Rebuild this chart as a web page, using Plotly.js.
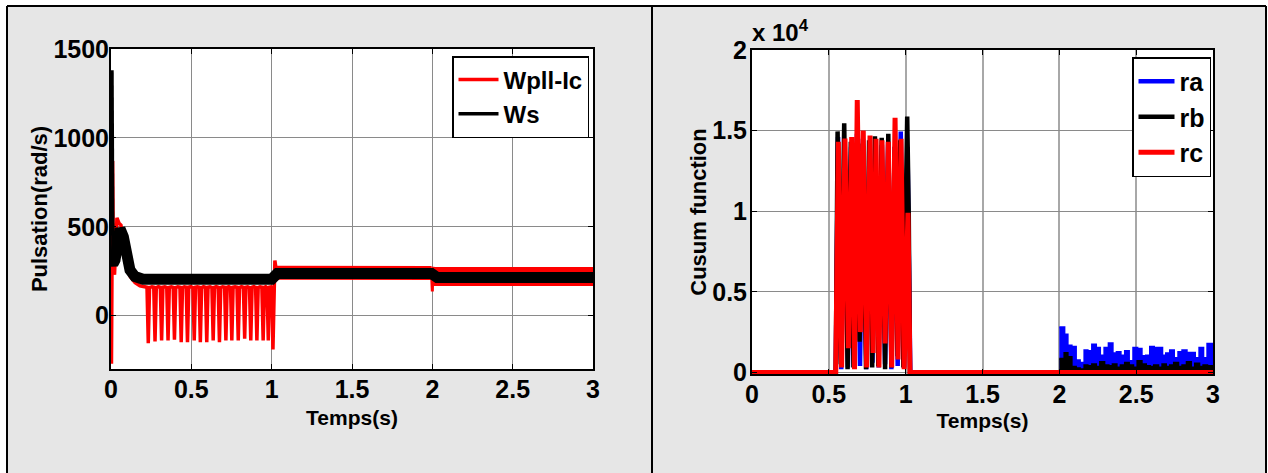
<!DOCTYPE html>
<html>
<head>
<meta charset="utf-8">
<script src="https://cdn.plot.ly/plotly-3.0.1.min.js"></script>
<style>html,body{margin:0;padding:0;background:#fff;}#chart{width:1268px;height:473px;}</style>
</head>
<body>
<div id="chart"></div>
<script>
// ---------- DATA ----------
const xTicks = [0, 0.5, 1, 1.5, 2, 2.5, 3];
const xTickText = ['0', '0.5', '1', '1.5', '2', '2.5', '3'];
const y1Ticks = [0, 500, 1000, 1500];
const y1TickText = ['0', '500', '1000', '1500'];
const y2Ticks = [0, 5000, 10000, 15000, 20000];
const y2TickText = ['0', '0.5', '1', '1.5', '2'];

// Left chart: Wpll-Ic (red), transient + oscillation 0..1.03 s
const wpllT = [0, 0.003, 0.010, 0.015, 0.022, 0.030, 0.037, 0.050, 0.062, 0.075, 0.090, 0.105, 0.120, 0.150, 0.180, 0.210,
  0.224, 0.232, 0.240, 0.255, 0.266, 0.274, 0.282, 0.295, 0.307, 0.315, 0.323, 0.335, 0.347, 0.355, 0.363, 0.375,
  0.387, 0.395, 0.403, 0.416, 0.429, 0.437, 0.445, 0.456, 0.468, 0.476, 0.484, 0.497, 0.510, 0.518, 0.526, 0.537,
  0.548, 0.556, 0.564, 0.576, 0.588, 0.596, 0.604, 0.616, 0.628, 0.636, 0.644, 0.655, 0.667, 0.675, 0.683, 0.695,
  0.707, 0.715, 0.723, 0.733, 0.744, 0.752, 0.760, 0.772, 0.784, 0.792, 0.800, 0.812, 0.824, 0.832, 0.840, 0.851,
  0.862, 0.870, 0.878, 0.889, 0.900, 0.908, 0.916, 0.928, 0.939, 0.947, 0.955, 0.963, 0.971, 0.979, 0.987, 0.996,
  1.001, 1.008, 1.013, 1.020, 1.030];
const wpllV = [0, -270, 870, 280, 230, 480, 550, 520, 510, 430, 330, 265, 220, 185, 168, 162,
  160, -155, 158, 162, 160, -145, 158, 163, 160, -140, 160, 162, 158, -140, 160, 163,
  160, -135, 158, 162, 160, -150, 158, 162, 160, -150, 160, 163, 158, -140, 160, 162,
  160, -150, 158, 163, 160, -150, 160, 162, 158, -140, 160, 163, 160, -150, 158, 162,
  160, -140, 160, 163, 158, -140, 160, 162, 160, -140, 158, 163, 160, -130, 160, 162,
  158, -140, 160, 163, 160, -140, 158, 162, 160, -140, 160, 163, 158, -140, 160, 162,
  160, -190, 160, 310, 245];
// Wpll-Ic noisy band centres after 1 s
const wpllBand1T = [1.030, 1.300, 1.600, 1.995];
const wpllBand1V = [242, 240, 240, 240];
const wpllStepT = [1.995, 2.000, 2.004, 2.010];
const wpllStepV = [240, 136, 275, 222];
const wpllBand2T = [2.010, 2.300, 2.600, 3.000];
const wpllBand2V = [220, 220, 220, 220];

// Ws (black)
const wsSpikeT = [0.006, 0.008, 0.012];
const wsSpikeV = [1380, 600, 290];
const wsT = [0.006, 0.012, 0.025, 0.040, 0.056, 0.077, 0.098, 0.118, 0.149, 0.200, 0.600, 1.000, 1.035, 1.500, 1.995, 2.030, 2.500, 3.000];
const wsV = [300, 290, 313, 420, 490, 444, 323, 257, 220, 205, 205, 205, 237, 237, 237, 215, 215, 215];

// Right chart: Cusum functions
const raT = [0, 0.545, 0.560, 0.581, 0.603, 0.624, 0.645, 0.664, 0.683, 0.703, 0.722, 0.744, 0.765, 0.784, 0.803, 0.824, 0.845, 0.866, 0.886, 0.907, 0.928, 0.948, 0.968, 0.990, 1.012, 1.030, 2.000];
const raV = [0, 0, 14600, 200, 14200, 300, 14000, 1000, 14800, 400, 14500, 200, 14300, 600, 14200, 300, 14100, 500, 14300, 200, 14000, 400, 14940, 300, 14000, 0, 0];
const rbT = [0, 0.545, 0.557, 0.578, 0.600, 0.622, 0.643, 0.660, 0.680, 0.700, 0.720, 0.742, 0.762, 0.782, 0.800, 0.822, 0.844, 0.866, 0.887, 0.908, 0.930, 0.948, 0.965, 0.985, 1.010, 1.020, 1.028, 2.000];
const rbV = [0, 0, 14950, 500, 15460, 200, 14300, 300, 14000, 1900, 14200, 200, 14400, 300, 14650, 400, 14550, 200, 14800, 300, 14000, 1000, 14400, 300, 15870, 9900, 0, 0];
const rcT = [0, 0.545, 0.562, 0.583, 0.605, 0.627, 0.649, 0.667, 0.685, 0.705, 0.724, 0.746, 0.768, 0.788, 0.807, 0.826, 0.846, 0.866, 0.887, 0.909, 0.931, 0.950, 0.970, 0.990, 1.015, 1.028, 3.000];
const rcV = [0, 0, 14300, 300, 14500, 1500, 14600, 200, 16900, 2500, 15000, 300, 14700, 1200, 14500, 300, 14400, 1800, 14300, 300, 15800, 800, 14500, 200, 9900, 0, 0];

// 2..3 s bursts (step levels)
const barT = [2.000, 2.033, 2.054, 2.080, 2.108, 2.134, 2.163, 2.184, 2.213, 2.239, 2.265, 2.293, 2.321, 2.347, 2.373, 2.399, 2.427, 2.453, 2.481,
  2.508, 2.536, 2.564, 2.590, 2.616, 2.644, 2.670, 2.694, 2.720, 2.746, 2.774, 2.800, 2.829, 2.857, 2.883, 2.911, 2.937, 2.963, 3.000];
const raBarV = [2800, 2350, 1670, 1590, 760, 600, 1380, 1320, 1730, 1530, 1050, 1530, 1800, 1180, 1260, 1050, 1320, 700, 1530,
  1470, 1010, 1050, 1590, 1530, 1530, 1050, 1180, 1380, 900, 1260, 1380, 1220, 1220, 900, 1530, 900, 1780, 1780];
const rbBarV = [850, 1200, 950, 350, 250, 200, 450, 400, 500, 350, 650, 450, 400, 500, 300, 450, 600, 450, 300,
  700, 500, 400, 350, 450, 300, 500, 350, 450, 600, 350, 450, 650, 300, 550, 350, 450, 400, 400];

// ---------- STYLE ----------
const SANS = '"Liberation Sans", Arial, sans-serif';
const RED = '#ff0000', BLACK = '#000000', BLUE = '#0000ff';
const W = 1268, H = 473;
const px = x => x / W;
const py = y => 1 - y / H;

const tickFont = {family: SANS, size: 25, color: '#000', weight: 'bold'};

const traces = [
  {x: wpllT, y: wpllV, xaxis: 'x', yaxis: 'y', mode: 'lines', name: '<b>Wpll-Ic</b>', legendgroup: 'a',
   line: {color: RED, width: 3.5}},
  {x: wpllBand1T, y: wpllBand1V, xaxis: 'x', yaxis: 'y', mode: 'lines', showlegend: false, hoverinfo: 'skip',
   line: {color: RED, width: 14}},
  {x: wpllStepT, y: wpllStepV, xaxis: 'x', yaxis: 'y', mode: 'lines', showlegend: false,
   line: {color: RED, width: 3}},
  {x: wpllBand2T, y: wpllBand2V, xaxis: 'x', yaxis: 'y', mode: 'lines', showlegend: false, hoverinfo: 'skip',
   line: {color: RED, width: 19}},
  {x: wsSpikeT, y: wsSpikeV, xaxis: 'x', yaxis: 'y', mode: 'lines', name: '<b>Ws</b>', legendgroup: 'b',
   line: {color: BLACK, width: 3.5}},
  {x: wsT, y: wsV, xaxis: 'x', yaxis: 'y', mode: 'lines', showlegend: false, hoverinfo: 'skip',
   line: {color: BLACK, width: 11}},

  {x: raT, y: raV, xaxis: 'x2', yaxis: 'y2', mode: 'lines', name: '<b>ra</b>', legend: 'legend2', legendgroup: 'c',
   line: {color: BLUE, width: 4.5}},
  {x: barT, y: raBarV, xaxis: 'x2', yaxis: 'y2', mode: 'lines', showlegend: false, legend: 'legend2',
   fill: 'tozeroy', fillcolor: BLUE, line: {color: BLUE, width: 2, shape: 'hv'}},
  {x: rbT, y: rbV, xaxis: 'x2', yaxis: 'y2', mode: 'lines', name: '<b>rb</b>', legend: 'legend2', legendgroup: 'd',
   line: {color: BLACK, width: 4.5}},
  {x: barT, y: rbBarV, xaxis: 'x2', yaxis: 'y2', mode: 'lines', showlegend: false, legend: 'legend2',
   fill: 'tozeroy', fillcolor: BLACK, line: {color: BLACK, width: 2, shape: 'hv'}},
  {x: rcT, y: rcV, xaxis: 'x2', yaxis: 'y2', mode: 'lines', name: '<b>rc</b>', legend: 'legend2', legendgroup: 'e',
   line: {color: RED, width: 5}}
];

function axisBase() {
  return {
    showline: true, linecolor: '#000', linewidth: 2, mirror: 'ticks',
    ticks: 'inside', ticklen: 5, tickwidth: 1, tickcolor: '#000',
    showgrid: true, gridcolor: '#8a8a8a', gridwidth: 1,
    zeroline: false, tickfont: tickFont, fixedrange: true
  };
}

const layout = {
  width: W, height: H,
  margin: {l: 0, r: 0, t: 0, b: 0},
  paper_bgcolor: '#e6e6e6', plot_bgcolor: '#ffffff',
  showlegend: true,
  xaxis: Object.assign(axisBase(), {domain: [px(111), px(593)], range: [0, 3], tickvals: xTicks, ticktext: xTickText,
    anchor: 'y', ticklabelstandoff: -3,
    title: {text: 'Temps(s)', font: {family: SANS, size: 21, color: '#000', weight: 'bold'}, standoff: 8}}),
  yaxis: Object.assign(axisBase(), {domain: [py(369), py(49)], range: [-300, 1500], tickvals: y1Ticks, ticktext: y1TickText,
    anchor: 'x', ticklabelstandoff: -5,
    title: {text: 'Pulsation(rad/s)', font: {family: SANS, size: 22, color: '#000', weight: 'bold'}, standoff: 0}}),
  xaxis2: Object.assign(axisBase(), {domain: [px(752), px(1213)], range: [0, 3], tickvals: xTicks, ticktext: xTickText,
    anchor: 'y2', ticklabelstandoff: -3, gridcolor: '#a8a8a8', gridwidth: 2,
    title: {text: 'Temps(s)', font: {family: SANS, size: 21, color: '#000', weight: 'bold'}, standoff: 6}}),
  yaxis2: Object.assign(axisBase(), {domain: [py(374), py(50)], range: [-100, 20000], tickvals: y2Ticks, ticktext: y2TickText,
    anchor: 'x2', ticklabelstandoff: -2,
    title: {text: 'Cusum function', font: {family: SANS, size: 22, color: '#000', weight: 'bold'}, standoff: 0}}),
  legend: {x: px(452), y: py(56), xanchor: 'left', yanchor: 'top', xref: 'paper', yref: 'paper',
    bgcolor: '#ffffff', bordercolor: '#000', borderwidth: 1.5, itemwidth: 40, tracegroupgap: 0,
    font: {family: SANS, size: 24, color: '#000'}},
  legend2: {x: px(1132), y: py(57), xanchor: 'left', yanchor: 'top', xref: 'paper', yref: 'paper',
    bgcolor: '#ffffff', bordercolor: '#000', borderwidth: 1.5, itemwidth: 36, tracegroupgap: 0,
    font: {family: SANS, size: 25, color: '#000'}},
  annotations: [
    {xref: 'paper', yref: 'paper', x: px(750), y: py(48), xanchor: 'left', yanchor: 'bottom', showarrow: false,
     text: '<b>x 10<sup>4</sup></b>', font: {family: SANS, size: 24, color: '#000'}}
  ],
  shapes: [
    {type: 'rect', xref: 'paper', yref: 'paper', x0: 0, x1: 1, y0: py(6), y1: 1, fillcolor: '#fff', line: {width: 0}, layer: 'below'},
    {type: 'rect', xref: 'paper', yref: 'paper', x0: 0, x1: px(7), y0: 0, y1: 1, fillcolor: '#fff', line: {width: 0}, layer: 'below'},
    {type: 'rect', xref: 'paper', yref: 'paper', x0: px(1266), x1: 1, y0: 0, y1: 1, fillcolor: '#fff', line: {width: 0}, layer: 'below'},
    {type: 'line', xref: 'paper', yref: 'paper', x0: px(7), x1: px(1266), y0: py(6), y1: py(6), line: {color: '#000', width: 2}},
    {type: 'line', xref: 'paper', yref: 'paper', x0: px(7), x1: px(7), y0: 0, y1: py(6), line: {color: '#000', width: 2}},
    {type: 'line', xref: 'paper', yref: 'paper', x0: px(652), x1: px(652), y0: 0, y1: py(6), line: {color: '#000', width: 2}},
    {type: 'line', xref: 'paper', yref: 'paper', x0: px(1266), x1: px(1266), y0: 0, y1: py(6), line: {color: '#000', width: 2}}
  ]
};

Plotly.newPlot('chart', traces, layout, {displayModeBar: false, staticPlot: true});
</script>
</body>
</html>
